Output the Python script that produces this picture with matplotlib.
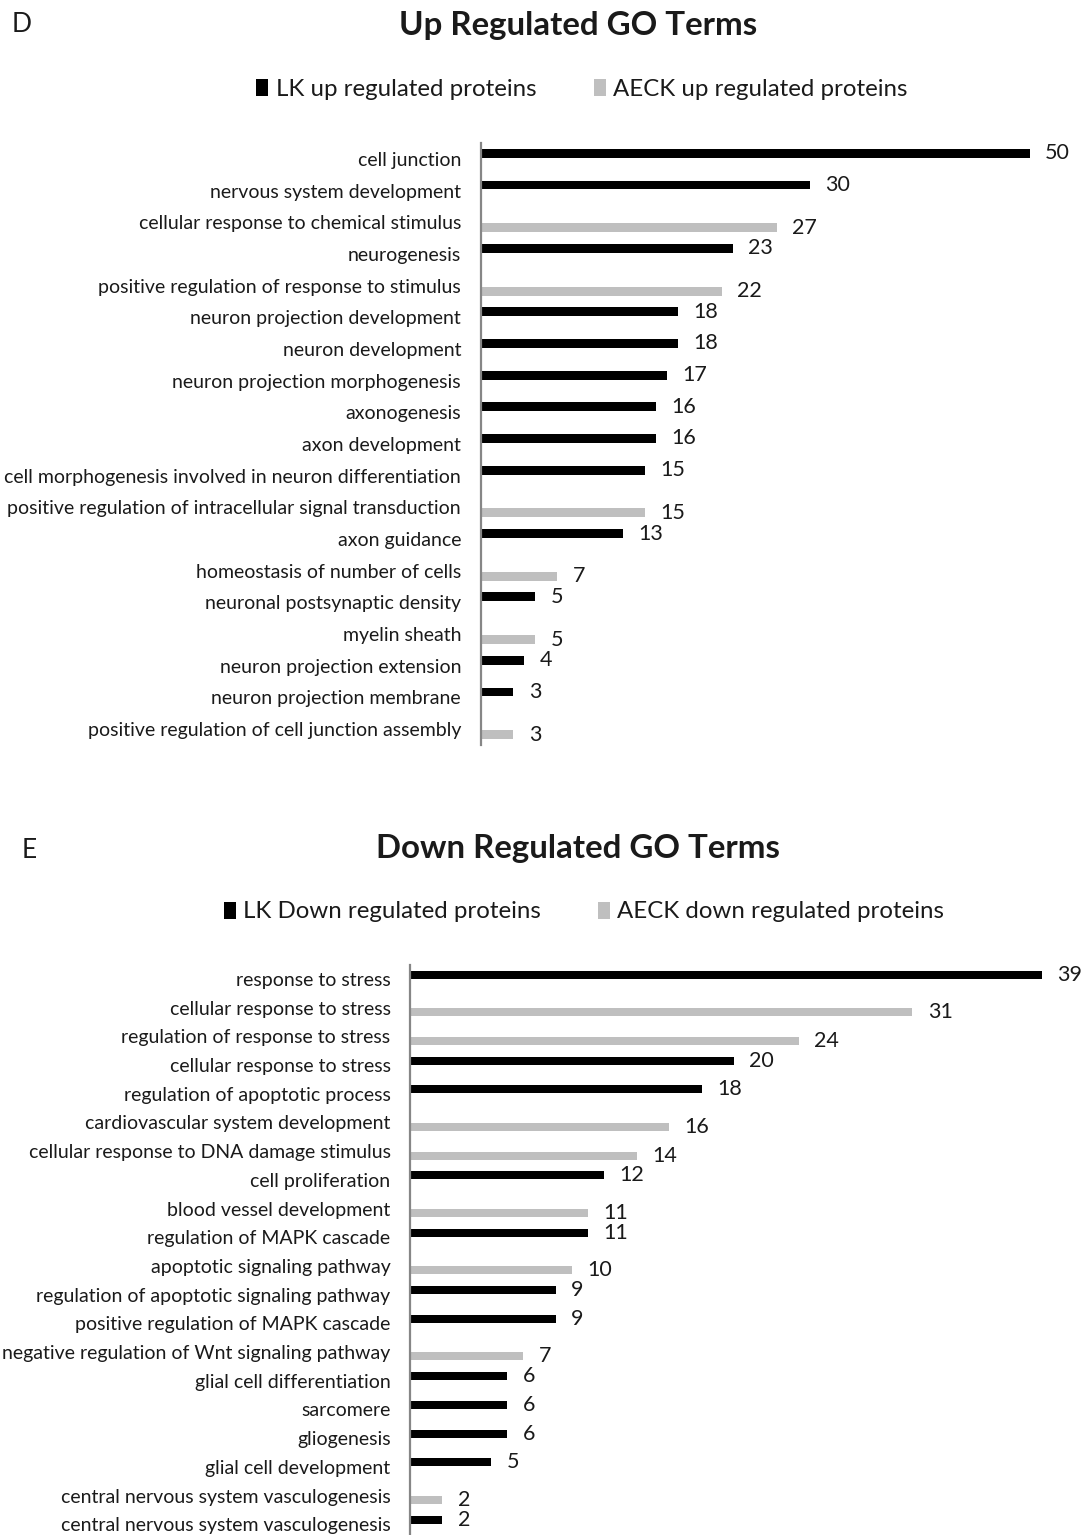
import matplotlib
matplotlib.use("Agg")
import matplotlib.pyplot as plt
import numpy as np

plt.rcParams['font.family'] = ['Lato', 'DejaVu Sans']

# ---------------- data ----------------
up_terms = ["cell junction", "nervous system development", "cellular response to chemical stimulus",
            "neurogenesis", "positive regulation of response to stimulus", "neuron projection development",
            "neuron development", "neuron projection morphogenesis", "axonogenesis", "axon development",
            "cell morphogenesis involved in neuron differentiation",
            "positive regulation of intracellular signal transduction", "axon guidance",
            "homeostasis of number of cells", "neuronal postsynaptic density", "myelin sheath",
            "neuron projection extension", "neuron projection membrane",
            "positive regulation of cell junction assembly"]
up_lk = [50, 30, 0, 23, 0, 18, 18, 17, 16, 16, 15, 0, 13, 0, 5, 0, 4, 3, 0]
up_aeck = [0, 0, 27, 0, 22, 0, 0, 0, 0, 0, 0, 15, 0, 7, 0, 5, 0, 0, 3]

down_terms = ["response to stress", "cellular response to stress", "regulation of response to stress",
              "cellular response to stress", "regulation of apoptotic process",
              "cardiovascular system development", "cellular response to DNA damage stimulus",
              "cell proliferation", "blood vessel development", "regulation of MAPK cascade",
              "apoptotic signaling pathway", "regulation of apoptotic signaling pathway",
              "positive regulation of MAPK cascade", "negative regulation of Wnt signaling pathway",
              "glial cell differentiation", "sarcomere", "gliogenesis", "glial cell development",
              "central nervous system vasculogenesis", "central nervous system vasculogenesis"]
down_lk = [39, 0, 0, 20, 18, 0, 0, 12, 0, 11, 0, 9, 9, 0, 6, 6, 6, 5, 0, 2]
down_aeck = [0, 31, 24, 0, 0, 16, 14, 0, 11, 0, 10, 0, 0, 7, 0, 0, 0, 0, 2, 0]

# ---------------- layout ----------------
W, H = 1084, 1535
fig = plt.figure(figsize=(W / 100, H / 100), dpi=100)


def rect(l, t, r, b):
    return [l / W, 1 - b / H, (r - l) / W, (b - t) / H]


BLACK = "#000000"
GRAY = "#bfbfbf"
AXIS = "#868686"
TXT = "#1a1a1a"
TICK_FS = 14
VAL_FS = 15.5
LEG_FS = 17.3
TITLE_FS = 23.8


def panel(ax, terms, lk, aeck, xmax, off, h, lk_label, aeck_label, legend_xy):
    y = np.arange(len(terms))
    lk = np.array(lk)
    aeck = np.array(aeck)
    b1 = ax.barh(y - off, lk, height=h, color=BLACK, linewidth=0, label=lk_label)
    b2 = ax.barh(y + off, aeck, height=h, color=GRAY, linewidth=0, label=aeck_label)
    for vals, yy in ((lk, y - off), (aeck, y + off)):
        for v, yv in zip(vals, yy):
            if v > 0:
                ax.annotate(str(v), xy=(v, yv), xytext=(11, 0), textcoords="offset points",
                            ha="left", va="center", fontsize=VAL_FS, color=TXT,
                            annotation_clip=False)
    ax.set_xlim(0, xmax)
    ax.set_ylim(len(terms) - 0.5, -0.5)
    ax.set_yticks(y)
    ax.set_yticklabels(terms, fontsize=TICK_FS, color=TXT)
    ax.tick_params(axis="y", length=0, pad=14)
    ax.set_xticks([])
    for s in ("top", "right", "bottom"):
        ax.spines[s].set_visible(False)
    ax.spines["left"].set_color(AXIS)
    ax.spines["left"].set_linewidth(1.6)
    ax.patch.set_alpha(0)
    leg = fig.legend(handles=[b1, b2], loc="center", bbox_to_anchor=legend_xy, ncol=2, frameon=False,
                     fontsize=LEG_FS, handlelength=0.5, handleheight=0.7, handletextpad=0.3,
                     columnspacing=2.4, borderpad=0)
    for t in leg.get_texts():
        t.set_color(TXT)


axD = fig.add_axes(rect(480.5, 143, 1029.5, 745))
panel(axD, up_terms, up_lk, up_aeck, 50, 0.174, 0.28,
      "LK up regulated proteins", "AECK up regulated proteins", (582 / W, 1 - 89 / H))

axE = fig.add_axes(rect(410, 964.6, 1042, 1538.6))
panel(axE, down_terms, down_lk, down_aeck, 39, 0.153, 0.28,
      "LK Down regulated proteins", "AECK down regulated proteins", (584 / W, 1 - 912 / H))

fig.text(578 / W, 1 - 25 / H, "Up Regulated GO Terms", ha="center", va="center",
         fontsize=TITLE_FS, fontweight="bold", color=TXT)
fig.text(578 / W, 1 - 848 / H, "Down Regulated GO Terms", ha="center", va="center",
         fontsize=TITLE_FS, fontweight="bold", color=TXT)
fig.text(12 / W, 1 - 25 / H, "D", ha="left", va="center", fontsize=19, color=TXT)
fig.text(22 / W, 1 - 850 / H, "E", ha="left", va="center", fontsize=19, color=TXT)

fig.savefig("out.png", dpi=100, facecolor="white")
